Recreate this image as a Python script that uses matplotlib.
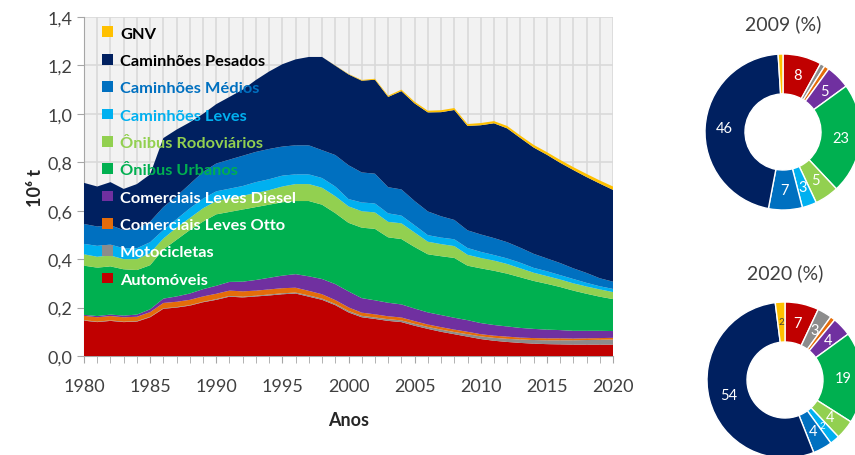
import matplotlib
matplotlib.use("Agg")
import matplotlib.pyplot as plt
from matplotlib.patches import Patch

plt.rcParams['font.family'] = ['Lato', 'DejaVu Sans']

years = list(range(1980, 2021))

automoveis = [.146, .140, .145, .140, .142, .160, .195, .200, .208, .222,
              .232, .245, .242, .246, .250, .255, .258, .245, .232, .210,
              .180, .160, .153, .145, .140, .125, .112, .100, .090, .080,
              .070, .063, .058, .054, .051, .049, .048, .047, .047, .047, .047]
motocicletas = [.002, .002, .002, .002, .002, .002, .002, .002, .002, .002,
                .003, .003, .003, .003, .004, .004, .004, .005, .005, .005,
                .006, .006, .006, .007, .007, .008, .008, .009, .009, .010,
                .011, .012, .013, .014, .015, .016, .017, .018, .019, .020, .021]
com_leves_otto = [.018, .018, .018, .018, .018, .019, .022, .022, .022, .022,
                  .022, .022, .022, .021, .021, .021, .020, .019, .018, .016,
                  .015, .013, .013, .012, .012, .011, .010, .010, .010, .010,
                  .009, .009, .009, .008, .008, .008, .008, .007, .007, .007, .007]
com_leves_diesel = [.004, .005, .006, .007, .009, .012, .018, .022, .026, .030,
                    .033, .036, .040, .044, .048, .052, .056, .060, .063, .066,
                    .066, .060, .058, .056, .054, .052, .050, .050, .049, .048,
                    .046, .044, .042, .040, .038, .036, .034, .032, .031, .030, .028]
onibus_urbanos = [.203, .200, .199, .191, .184, .182, .203, .234, .262, .279,
                  .295, .289, .298, .301, .302, .303, .302, .311, .307, .293,
                  .283, .291, .295, .270, .270, .254, .240, .243, .247, .225,
                  .226, .224, .218, .209, .198, .189, .178, .166, .153, .141, .132]
onibus_rodoviarios = [.047, .045, .045, .042, .045, .050, .045, .050, .050, .055,
                      .055, .056, .057, .058, .060, .065, .070, .070, .070, .070,
                      .068, .068, .068, .064, .065, .060, .052, .050, .049, .045,
                      .043, .042, .040, .037, .034, .032, .031, .030, .030, .030, .029]
caminhoes_leves = [.043, .045, .045, .045, .045, .045, .035, .035, .040, .040,
                   .040, .040, .040, .045, .045, .045, .040, .040, .040, .040,
                   .030, .036, .037, .035, .032, .030, .027, .027, .028, .028,
                   .025, .023, .023, .023, .020, .020, .018, .018, .015, .013, .013]
caminhoes_medios = [.082, .080, .080, .075, .080, .085, .095, .095, .100, .110,
                    .115, .120, .125, .125, .125, .120, .120, .120, .115, .130,
                    .140, .124, .123, .108, .108, .100, .098, .088, .080, .073,
                    .072, .070, .067, .062, .058, .053, .050, .044, .041, .033, .030]
caminhoes_pesados = [.170, .165, .178, .170, .185, .195, .285, .275, .255, .240,
                     .245, .259, .273, .297, .320, .340, .355, .365, .385, .369,
                     .375, .379, .388, .373, .406, .403, .409, .430, .454, .431,
                     .451, .474, .470, .453, .439, .428, .414, .406, .396, .391, .379]
gnv = [0, 0, 0, 0, 0, 0, 0, 0, 0, 0,
       0, 0, 0, 0, 0, 0, 0, 0, 0, .001,
       .002, .003, .004, .005, .006, .007, .007, .008, .008, .008,
       .009, .009, .010, .010, .011, .011, .012, .012, .013, .013, .014]

series_names = ['Automóveis', 'Motocicletas', 'Comerciais Leves Otto',
                'Comerciais Leves Diesel', 'Ônibus Urbanos', 'Ônibus Rodoviários',
                'Caminhões Leves', 'Caminhões Médios', 'Caminhões Pesados', 'GNV']
colors = ['#C00000', '#8C8C8C', '#E46C0A', '#7030A0', '#00B050', '#92D050',
          '#00B0F0', '#0070C0', '#002060', '#FFC000']
legend_text_colors = ['white', 'white', 'white', 'white', '#00B050', '#92D050',
                      '#00B0F0', '#0070C0', 'black', 'black']

yticks = [0.0, 0.2, 0.4, 0.6, 0.8, 1.0, 1.2, 1.4]
ytick_labels = ['0,0', '0,2', '0,4', '0,6', '0,8', '1,0', '1,2', '1,4']
xticks = [1980, 1985, 1990, 1995, 2000, 2005, 2010, 2015, 2020]

share_2009 = [8, 1, 1, 5, 23, 5, 3, 7, 46, 1]
labels_2009 = ['8', '', '', '5', '23', '5', '3', '7', '46', '']
share_2020 = [7, 3, 1, 4, 19, 4, 2, 4, 54, 2]
labels_2020 = ['7', '3', '', '4', '19', '4', '2', '4', '54', '2']

W, H = 855, 456
fig = plt.figure(figsize=(W / 100, H / 100), dpi=100)

ax = fig.add_axes([84 / W, 99 / H, 529 / W, 339 / H])
ax.set_facecolor('#F2F2F2')
data = [automoveis, motocicletas, com_leves_otto, com_leves_diesel, onibus_urbanos,
        onibus_rodoviarios, caminhoes_leves, caminhoes_medios, caminhoes_pesados, gnv]
ax.stackplot(years, data, colors=colors, linewidth=0, zorder=3)
ax.set_xlim(1980, 2020)
ax.set_ylim(0, 1.4)
ax.set_xticks(xticks)
ax.set_xticks(years, minor=True)
ax.set_yticks(yticks)
ax.set_yticklabels(ytick_labels)
ax.grid(True, which='both', axis='x', color='#D9D9D9', linewidth=1.2, zorder=0)
ax.grid(True, which='major', axis='y', color='#D9D9D9', linewidth=1.2, zorder=0)
ax.set_axisbelow(True)
for s in ['top', 'right']:
    ax.spines[s].set_visible(False)
for s in ['left', 'bottom']:
    ax.spines[s].set_color('#A6A6A6')
ax.tick_params(axis='both', which='both', color='#A6A6A6', direction='out',
               labelsize=13, labelcolor='#404040')
ax.tick_params(axis='y', length=5)
ax.tick_params(axis='x', which='major', length=5, pad=11)
ax.tick_params(axis='x', which='minor', length=5)
ax.set_xlabel('Anos', fontsize=13, fontweight='bold', labelpad=12, color='#262626')
ax.set_ylabel('10⁶ t', fontsize=13, fontweight='bold', labelpad=2, color='#262626')

handles = [Patch(facecolor=c, edgecolor='none') for c in colors][::-1]
leg = ax.legend(handles, series_names[::-1], loc='upper left',
                bbox_to_anchor=(0.034, 0.972), frameon=False,
                prop={'size': 11.8, 'weight': 'bold'}, handlelength=0.65,
                handleheight=0.65, handletextpad=0.45, labelspacing=0.8,
                borderaxespad=0, borderpad=0)
for t, c in zip(leg.get_texts(), legend_text_colors[::-1]):
    t.set_color(c)
leg.set_zorder(5)


def donut(cx, cy, values, labels, title, ty):
    R = 80
    a = fig.add_axes([(cx - R) / W, (H - cy - R) / H, 2 * R / W, 2 * R / H])
    wedges, texts = a.pie(values, colors=colors, labels=labels, startangle=90,
                          counterclock=False, radius=0.975, labeldistance=0.75,
                          wedgeprops={'width': 0.5, 'edgecolor': 'white', 'linewidth': 1})
    for t, v, c in zip(texts, values, colors):
        t.set_ha('center')
        t.set_va('center')
        t.set_fontsize(10.5 if v >= 3 else 7)
        t.set_color('#404040' if c == '#FFC000' else 'white')
    a.set_xlim(-1, 1)
    a.set_ylim(-1, 1)
    a.set_aspect('equal')
    a.axis('off')
    fig.text(cx / W, 1 - ty / H, title, ha='center', va='center', fontsize=14,
             color='#404040')


donut(783, 133, share_2009, labels_2009, '2009 (%)', 24)
donut(785, 381, share_2020, labels_2020, '2020 (%)', 273)

fig.savefig('out.png', dpi=100)
